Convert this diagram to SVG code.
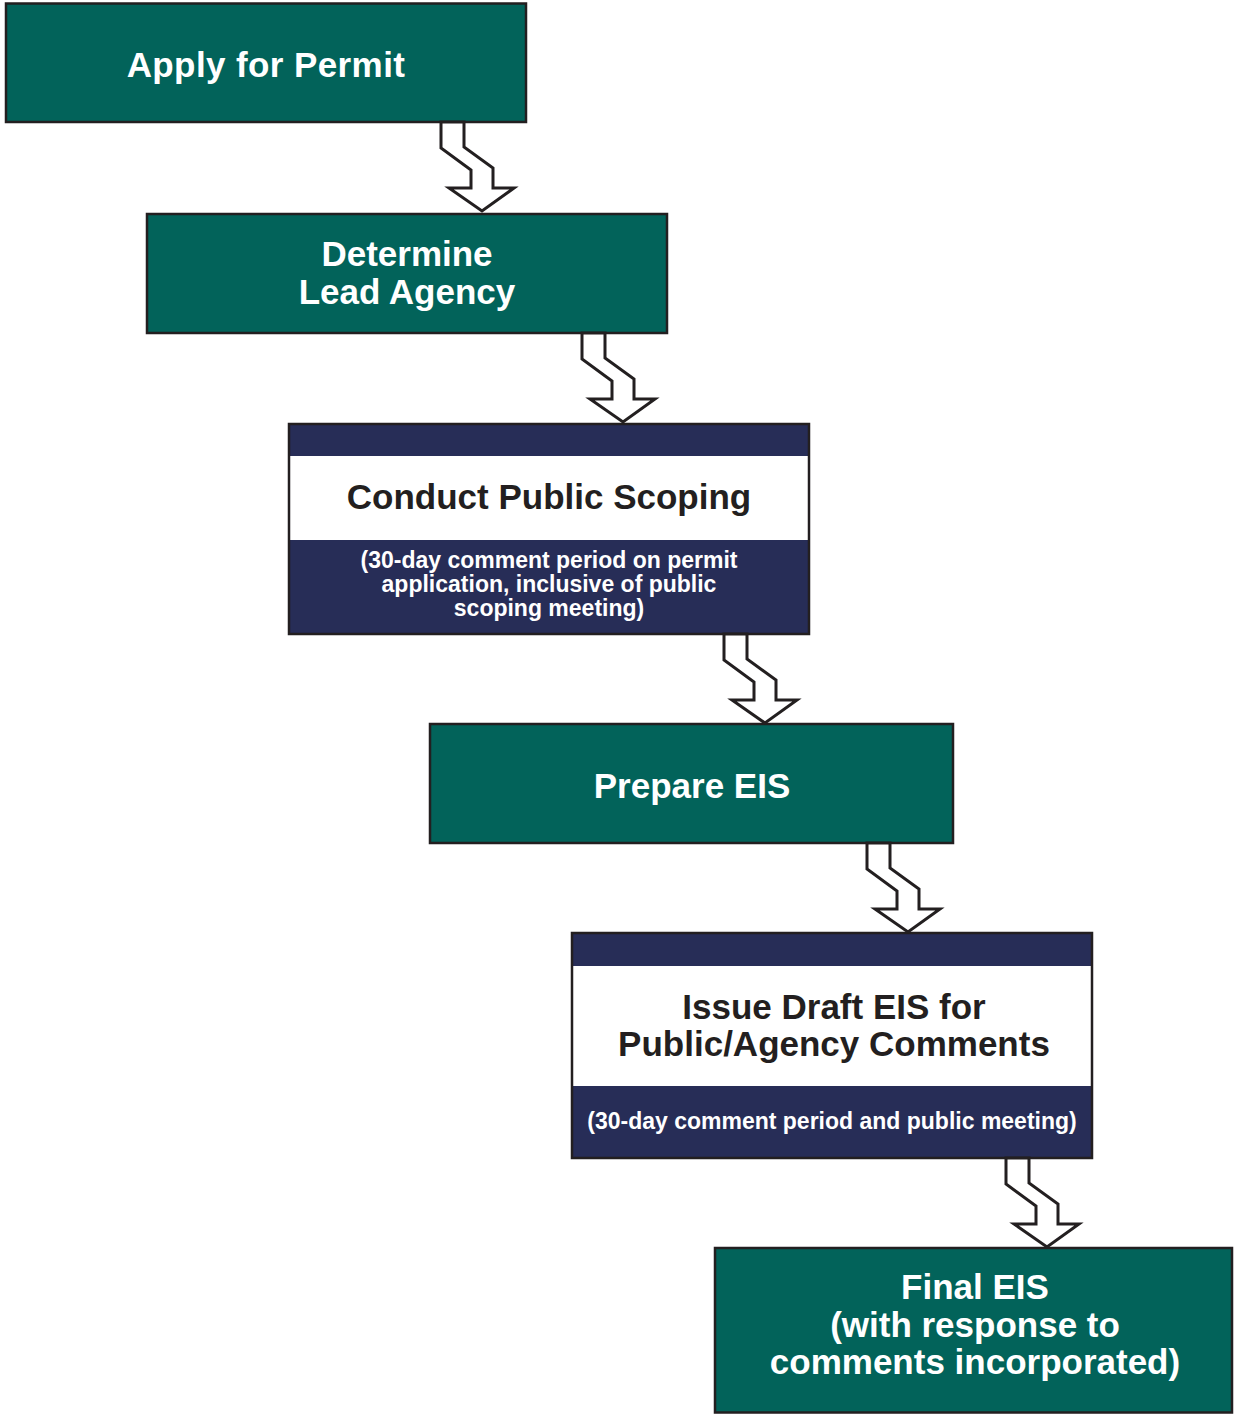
<svg xmlns="http://www.w3.org/2000/svg" width="1234" height="1414" viewBox="0 0 1234 1414">
<style>
.box{stroke:#231f20;stroke-width:2.5}
.green{fill:#02635a}
.navy{fill:#272d57}
.white{fill:#ffffff}
.t{font-family:"Liberation Sans",Arial,sans-serif;font-weight:bold;font-size:35px;text-anchor:middle}
.s{font-family:"Liberation Sans",Arial,sans-serif;font-weight:bold;font-size:23px;text-anchor:middle;fill:#ffffff}
.tw{fill:#ffffff}
.tb{fill:#231f20}
.arrow{fill:#ffffff;stroke:#231f20;stroke-width:3;stroke-linejoin:miter}
</style>
<defs>
<path id="arr" d="M0,0 L0,26 L30,48 L30,66 L8,66 L41,89 L73,66 L52,66 L52,46 L23,25 L23,0 Z"/>
</defs>
<rect width="1234" height="1414" fill="#ffffff"/>
<g id="node1">
<rect class="box green" x="6" y="3.5" width="520" height="118.5"/>
<text class="t tw" x="266" y="77" letter-spacing="0.4">Apply for Permit</text>
</g>
<g id="node2">
<rect class="box green" x="147" y="214" width="520" height="119"/>
<text class="t tw" x="407" y="266">Determine</text>
<text class="t tw" x="407" y="304">Lead Agency</text>
</g>
<g id="node3">
<rect class="navy" x="289" y="424" width="520" height="210"/>
<rect class="white" x="289" y="456" width="520" height="84"/>
<rect class="box" fill="none" x="289" y="424" width="520" height="210"/>
<text class="t tb" x="549" y="509">Conduct Public Scoping</text>
<text class="s" x="549" y="568">(30-day comment period on permit</text>
<text class="s" x="549" y="592">application, inclusive of public</text>
<text class="s" x="549" y="616">scoping meeting)</text>
</g>
<g id="node4">
<rect class="box green" x="430" y="724" width="523" height="119"/>
<text class="t tw" x="692" y="798">Prepare EIS</text>
</g>
<g id="node5">
<rect class="navy" x="572" y="933" width="520" height="225"/>
<rect class="white" x="572" y="966" width="520" height="120"/>
<rect class="box" fill="none" x="572" y="933" width="520" height="225"/>
<text class="t tb" x="834" y="1019">Issue Draft EIS for</text>
<text class="t tb" x="834" y="1056">Public/Agency Comments</text>
<text class="s" x="832" y="1129">(30-day comment period and public meeting)</text>
</g>
<g id="node6">
<rect class="box green" x="715" y="1248" width="517" height="164.5"/>
<text class="t tw" x="975" y="1299">Final EIS</text>
<text class="t tw" x="975" y="1337">(with response to</text>
<text class="t tw" x="975" y="1374">comments incorporated)</text>
</g>
<g id="connectors">
<use href="#arr" class="arrow" transform="translate(441,122)"/>
<use href="#arr" class="arrow" transform="translate(582,333)"/>
<use href="#arr" class="arrow" transform="translate(724,634)"/>
<use href="#arr" class="arrow" transform="translate(867,843)"/>
<use href="#arr" class="arrow" transform="translate(1006,1158)"/>
</g>
</svg>
